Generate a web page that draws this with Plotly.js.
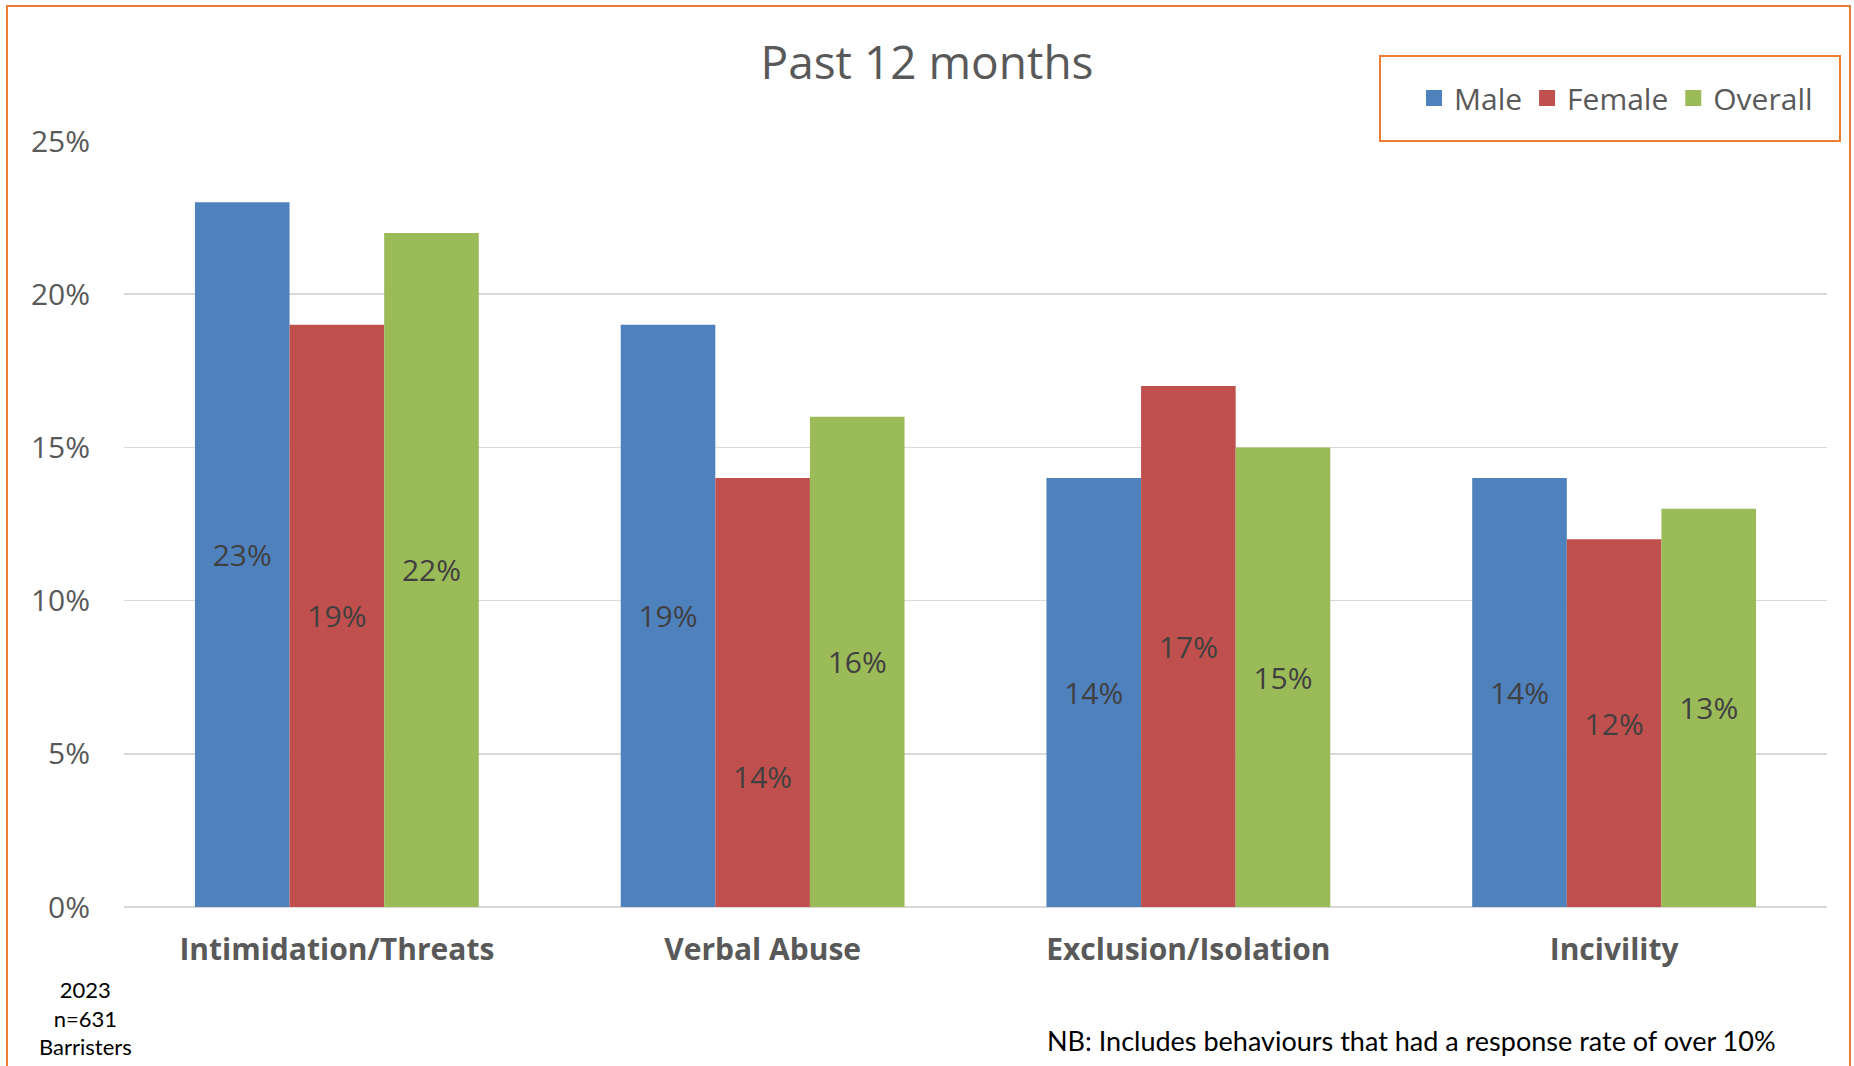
<!DOCTYPE html>
<html>
<head>
<meta charset="utf-8">
<script src="https://cdn.plot.ly/plotly-3.0.1.min.js"></script>
<style>html,body{margin:0;padding:0;background:#fff;}#chart{width:1854px;height:1066px;}</style>
</head>
<body>
<div id="chart"></div>
<script>
const categories = ["Intimidation/Threats", "Verbal Abuse", "Exclusion/Isolation", "Incivility"];
const male = [0.23, 0.19, 0.14, 0.14];
const female = [0.19, 0.14, 0.17, 0.12];
const overall = [0.22, 0.16, 0.15, 0.13];
const seriesNames = ["Male", "Female", "Overall"];
const yTicks = [0, 0.05, 0.10, 0.15, 0.20, 0.25];
const yTickLabels = ["0%", "5%", "10%", "15%", "20%", "25%"];
// In the source, the Female "Verbal Abuse" label sits low in its bar (at about 4.25% height)
const movedLabel = {series: 1, index: 1, y: 0.0425};

const colors = ["#4F81BD", "#C0504D", "#9BBB59"];
const FONT = "Open Sans, Noto Sans, sans-serif";
const NOTEFONT = "Lato, Open Sans, sans-serif";
const series = [male, female, overall];
const pct = v => Math.round(v * 100) + "%";

const traces = series.map((vals, i) => ({
  type: "bar",
  name: seriesNames[i],
  x: categories,
  y: vals,
  marker: {color: colors[i]},
  text: vals.map((v, j) => (i === movedLabel.series && j === movedLabel.index) ? "" : pct(v)),
  textposition: "inside",
  insidetextanchor: "middle",
  textangle: 0,
  textfont: {family: FONT, size: 30, color: "#404040"},
  showlegend: false,
  hoverinfo: "skip"
}));

// legend-only entries with larger square swatches
seriesNames.forEach((n, i) => {
  traces.push({
    type: "scatter", mode: "markers", name: n,
    x: [null], y: [null],
    marker: {symbol: "square", size: 20, color: colors[i]},
    showlegend: true, hoverinfo: "skip"
  });
});

const layout = {
  width: 1854,
  height: 1066,
  margin: {l: 124, r: 27, t: 141, b: 159},
  paper_bgcolor: "#ffffff",
  plot_bgcolor: "#ffffff",
  font: {family: FONT, color: "#595959"},
  title: {
    text: "Past 12 months",
    font: {family: FONT, size: 46, color: "#595959"},
    x: 0.5, xanchor: "center",
    y: 1 - 63/1066, yanchor: "middle"
  },
  barmode: "group",
  bargap: 1/3,
  bargroupgap: 0,
  xaxis: {
    tickfont: {family: FONT, size: 30, color: "#595959", weight: "bold"},
    showline: false,
    ticks: "",
    ticklabelstandoff: 22
  },
  yaxis: {
    range: [0, 0.25],
    tickvals: yTicks,
    ticktext: yTickLabels,
    tickfont: {family: FONT, size: 30, color: "#595959"},
    showgrid: true,
    gridcolor: "#D9D9D9",
    gridwidth: 1.5,
    zeroline: true,
    zerolinecolor: "#D9D9D9",
    zerolinewidth: 2,
    ticks: "",
    ticklabelstandoff: 33
  },
  showlegend: true,
  legend: {
    orientation: "h",
    x: (1616 - 124) / 1703, xanchor: "center",
    y: (907 - 98) / 766, yanchor: "middle",
    font: {family: FONT, size: 30, color: "#595959"},
    bgcolor: "rgba(0,0,0,0)",
    itemclick: false
  },
  shapes: [
    {type: "rect", xref: "paper", yref: "paper",
     x0: (1380 - 124) / 1703, x1: (1840 - 124) / 1703,
     y0: (907 - 141) / 766, y1: (907 - 56) / 766,
     line: {color: "#ED7D31", width: 2}, fillcolor: "rgba(0,0,0,0)"},
    {type: "rect", xref: "paper", yref: "paper",
     x0: (7 - 124) / 1703, x1: (1850 - 124) / 1703,
     y0: (907 - 1080) / 766, y1: (907 - 6) / 766,
     line: {color: "#ED7D31", width: 2}, fillcolor: "rgba(0,0,0,0)", layer: "above"}
  ],
  annotations: [
    {xref: "x", yref: "y", x: categories[movedLabel.index], y: movedLabel.y,
     xanchor: "center", yanchor: "middle", showarrow: false,
     text: pct(series[movedLabel.series][movedLabel.index]),
     font: {family: FONT, size: 30, color: "#404040"}},
    {xref: "paper", yref: "paper", x: (85 - 124) / 1703, y: (907 - 1018) / 766,
     xanchor: "center", yanchor: "middle", showarrow: false, align: "center",
     text: "2023<br>n=631<br>Barristers",
     font: {family: NOTEFONT, size: 22, color: "#000000"}},
    {xref: "paper", yref: "paper", x: (1045 - 124) / 1703, y: (907 - 1040) / 766,
     xanchor: "left", yanchor: "middle", showarrow: false,
     text: "NB: Includes behaviours that had a response rate of over 10%",
     font: {family: NOTEFONT, size: 27, color: "#000000"}}
  ]
};

Plotly.newPlot("chart", traces, layout, {displayModeBar: false, staticPlot: true});
</script>
</body>
</html>
